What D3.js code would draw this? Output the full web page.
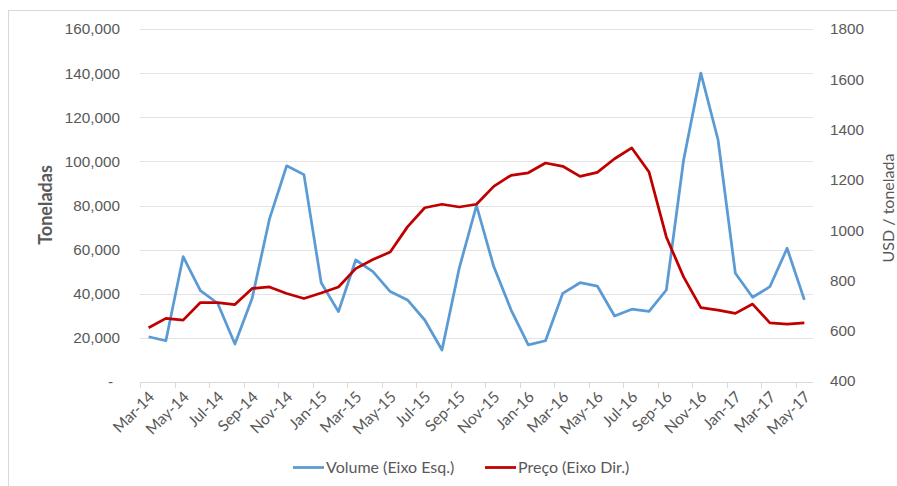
<!DOCTYPE html>
<html><head><meta charset="utf-8">
<script src="https://cdn.jsdelivr.net/npm/d3@7"></script>
<style>
html,body{margin:0;padding:0;background:#fff;}
svg{display:block;font-family:Lato,"Open Sans",sans-serif;}
</style></head>
<body>
<svg id="chart" width="897" height="486"></svg>
<script>
const months = ["Mar-14","Apr-14","May-14","Jun-14","Jul-14","Aug-14","Sep-14","Oct-14","Nov-14","Dec-14",
"Jan-15","Feb-15","Mar-15","Apr-15","May-15","Jun-15","Jul-15","Aug-15","Sep-15","Oct-15","Nov-15","Dec-15",
"Jan-16","Feb-16","Mar-16","Apr-16","May-16","Jun-16","Jul-16","Aug-16","Sep-16","Oct-16","Nov-16","Dec-16",
"Jan-17","Feb-17","Mar-17","Apr-17","May-17"];
const volume = [20500,18700,56800,41400,35700,17200,38000,73800,98000,94000,
45000,31900,55300,50000,41000,37200,28100,14500,51600,80000,52300,32700,
16800,18700,40200,45000,43500,29900,33000,32000,41700,100500,140000,109700,
49300,38400,43200,60600,37200];
const price = [612,649,642,712,712,704,768,774,748,728,
750,774,847,883,913,1013,1089,1103,1092,1103,1174,1218,
1228,1267,1254,1214,1230,1284,1327,1231,973,814,692,682,
669,706,631,626,631];
const leftTicks = [0,20000,40000,60000,80000,100000,120000,140000,160000];
const rightTicks = [400,600,800,1000,1200,1400,1600,1800];
const seriesNames = ["Volume (Eixo Esq.)","Preço (Eixo Dir.)"];
const colors = ["#5B9BD5","#C00000"];

const svg = d3.select("#chart");
const txt = "#595959";
const X0 = 140, X1 = 813, Y0 = 382, Y1 = 29;

svg.append("rect").attr("x",8.5).attr("y",10.5).attr("width",900).attr("height",480)
  .attr("fill","none").attr("stroke","#d9d9d9").attr("stroke-width",1);

const x = d3.scaleBand().domain(months).range([X0,X1]).padding(0);
const bw = x.bandwidth();
const yL = d3.scaleLinear().domain([0,160000]).range([Y0,Y1]);
const yR = d3.scaleLinear().domain([400,1800]).range([381,29]);

// gridlines
svg.append("g").selectAll("line").data(leftTicks.filter(d=>d>0)).join("line")
  .attr("x1",X0).attr("x2",X1).attr("y1",d=>Math.round(yL(d))+0.5).attr("y2",d=>Math.round(yL(d))+0.5)
  .attr("stroke","#e3e3e3").attr("stroke-width",1);

// left axis
const gL = svg.append("g").attr("transform",`translate(${X0},0)`)
  .call(d3.axisLeft(yL).tickValues(leftTicks).tickSize(0).tickPadding(20)
    .tickFormat(d=>d===0?"-":d3.format(",")(d)));
gL.select(".domain").remove();
gL.selectAll("text").attr("fill",txt).attr("font-size",15.3)
  .attr("x",d=>d===0?-27:-20);

// right axis
const gR = svg.append("g").attr("transform",`translate(${X1},0)`)
  .call(d3.axisRight(yR).tickValues(rightTicks).tickSize(0).tickPadding(17).tickFormat(d3.format("d")));
gR.select(".domain").remove();
gR.selectAll("text").attr("fill",txt).attr("font-size",15.3);

// bottom axis
svg.append("line").attr("x1",X0).attr("x2",X1).attr("y1",Y0+0.5).attr("y2",Y0+0.5)
  .attr("stroke","#d9d9d9").attr("stroke-width",1);
const tickIdx = months.map((m,i)=>i).filter(i=>i%2===0);
svg.append("g").selectAll("line").data(tickIdx).join("line")
  .attr("x1",i=>Math.round(x(months[i]))+0.5).attr("x2",i=>Math.round(x(months[i]))+0.5)
  .attr("y1",Y0).attr("y2",Y0+6).attr("stroke","#d9d9d9");
svg.append("g").selectAll("text").data(tickIdx).join("text")
  .attr("transform",i=>`translate(${x(months[i])+bw/2+3},${Y0+12}) rotate(-45)`)
  .attr("text-anchor","end").attr("dy","0.35em")
  .attr("fill",txt).attr("font-size",15.5).text(i=>months[i]);

// lines
const lineL = d3.line().x((d,i)=>x(months[i])+bw/2).y(d=>yL(d));
const lineR = d3.line().x((d,i)=>x(months[i])+bw/2).y(d=>yR(d));
svg.append("path").datum(volume).attr("d",lineL).attr("fill","none")
  .attr("stroke",colors[0]).attr("stroke-width",2.75).attr("stroke-linejoin","round");
svg.append("path").datum(price).attr("d",lineR).attr("fill","none")
  .attr("stroke",colors[1]).attr("stroke-width",2.75).attr("stroke-linejoin","round");

// axis titles
svg.append("text").attr("transform","translate(52,205) rotate(-90)")
  .attr("text-anchor","middle").attr("font-weight","bold").attr("font-size",18)
  .attr("fill",txt).text("Toneladas");
svg.append("text").attr("transform","translate(894,208) rotate(-90)")
  .attr("text-anchor","middle").attr("font-size",16)
  .attr("fill",txt).text("USD / tonelada");

// legend
const legX = [293,485];
seriesNames.forEach((n,i)=>{
  svg.append("line").attr("x1",legX[i]).attr("x2",legX[i]+31).attr("y1",467.5).attr("y2",467.5)
    .attr("stroke",colors[i]).attr("stroke-width",2.75);
  svg.append("text").attr("x",legX[i]+33).attr("y",467.5).attr("dy","0.35em")
    .attr("fill",txt).attr("font-size",16).text(n);
});
</script>
</body></html>
